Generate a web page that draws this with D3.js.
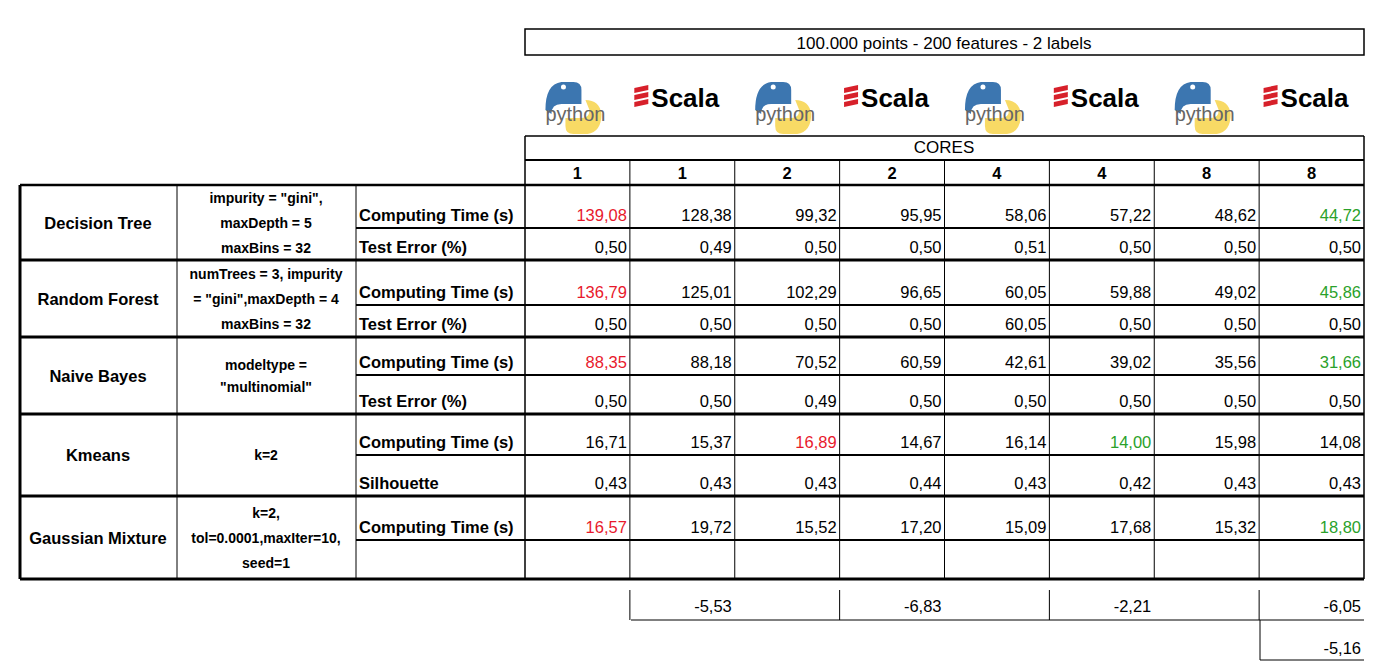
<!DOCTYPE html><html><head><meta charset="utf-8">
<script src="https://cdn.jsdelivr.net/npm/d3@7"></script>
<style>body{margin:0;background:#fff}text{font-family:"Liberation Sans Narrow","Liberation Sans",Arial,sans-serif}</style></head><body>
<svg id="c" width="1384" height="670"></svg>
<script>
const title="100.000 points - 200 features - 2 labels";
const langs=["python","scala","python","scala","python","scala","python","scala"];
const cores=["1","1","2","2","4","4","8","8"];
const algorithms=["Decision Tree","Random Forest","Naive Bayes","Kmeans","Gaussian Mixture"];
const params=[["impurity = \"gini\",","maxDepth = 5","maxBins = 32"],["numTrees = 3, impurity","= \"gini\",maxDepth = 4","maxBins = 32"],["modeltype =","\"multinomial\""],["k=2"],["k=2,","tol=0.0001,maxIter=10,","seed=1"]];
const metrics=[["Computing Time (s)","Test Error (%)"],["Computing Time (s)","Test Error (%)"],["Computing Time (s)","Test Error (%)"],["Computing Time (s)","Silhouette"],["Computing Time (s)",""]];
const values=[
[["139,08","128,38","99,32","95,95","58,06","57,22","48,62","44,72"],["0,50","0,49","0,50","0,50","0,51","0,50","0,50","0,50"]],
[["136,79","125,01","102,29","96,65","60,05","59,88","49,02","45,86"],["0,50","0,50","0,50","0,50","60,05","0,50","0,50","0,50"]],
[["88,35","88,18","70,52","60,59","42,61","39,02","35,56","31,66"],["0,50","0,50","0,49","0,50","0,50","0,50","0,50","0,50"]],
[["16,71","15,37","16,89","14,67","16,14","14,00","15,98","14,08"],["0,43","0,43","0,43","0,44","0,43","0,42","0,43","0,43"]],
[["16,57","19,72","15,52","17,20","15,09","17,68","15,32","18,80"],["","","","","","","",""]]];
const redCells=[[0,0],[1,0],[2,0],[3,2],[4,0]];
const greenCells=[[0,7],[1,7],[2,7],[3,5],[4,7]];
const diffs=["","-5,53","","-6,83","","-2,21","","-6,05"];
const extraDiff="-5,16";

const svg=d3.select("#c");
const colX=d3.scaleBand().domain(d3.range(8)).range([525,1364]);
const bw=colX.bandwidth();
const groupTops=[185,260,337,414,496,579];
const splitY=[228,305,375,455,540];
const ln=(x1,y1,x2,y2,w)=>svg.append("line").attr("x1",x1).attr("y1",y1).attr("x2",x2).attr("y2",y2).attr("stroke","#000").attr("stroke-width",w);
const tx=(x,y,s,o={})=>svg.append("text").attr("x",x).attr("y",y).attr("text-anchor",o.a||"middle").attr("font-size",o.fs||16.5).attr("font-weight",o.b?"bold":null).attr("fill",o.c||"#000").text(s);

svg.append("rect").attr("x",525).attr("y",29).attr("width",839).attr("height",26).attr("fill","none").attr("stroke","#000").attr("stroke-width",1.5);
tx(944,49,title,{fs:17});
langs.forEach((l,i)=>{const cx=colX(i)+bw/2;
 if(l==="python"){
  svg.append("path").attr("d",`M${cx-32},${110} q0,-26 16,-28 h12 q8,0 8,8 v14 h-20 q-10,0 -10,10 z`).attr("fill","#3c76b0");
  svg.append("circle").attr("cx",cx-14).attr("cy",87).attr("r",2.5).attr("fill","#fff");
  svg.append("path").attr("d",`M${cx+8},${100} q14,0 16,14 q0,18 -14,20 h-14 q-8,0 -8,-8 v-8 h16 q8,0 8,-8 z`).attr("fill","#f7d44a").attr("opacity",0.85);
  tx(cx-2,121,"python",{fs:20,c:"#666"});
 } else {
  for(let k=0;k<3;k++) svg.append("path").attr("d",`M${cx-48},${88+k*7} l14,-3 v5 l-14,3 z`).attr("fill","#d7202a");
  tx(cx-31,107,"Scala",{fs:26,b:true,a:"start"});
 }});
ln(525,136,1364,136,1.5);tx(944,153,"CORES",{fs:17});
ln(525,160,1364,160,2);
cores.forEach((c,i)=>tx(colX(i)+bw/2,179,c,{b:true}));
ln(20,185,1364,185,2.5);
algorithms.forEach((a,g)=>{
 const t=groupTops[g],b=groupTops[g+1],m=splitY[g];
 tx(98,(t+b)/2+6,a,{b:true});
 const p=params[g],lh=p.length===3?25:22;
 p.forEach((s,k)=>tx(266,(t+b)/2+5+(k-(p.length-1)/2)*lh,s,{fs:14,b:true}));
 [0,1].forEach(r=>{
  const y=r===0?m-7:b-7;
  tx(359,y,metrics[g][r],{a:"start",b:true});
  values[g][r].forEach((v,i)=>{
   let c="#000";
   if(r===0&&redCells.some(d=>d[0]===g&&d[1]===i))c="#e8192c";
   if(r===0&&greenCells.some(d=>d[0]===g&&d[1]===i))c="#2aa12a";
   tx(colX(i)+bw-3,y,v,{a:"end",c});
  });
 });
 ln(356,m,1364,m,2);
 ln(20,b,1364,b,3);
});
ln(20,185,20,579,3);
[177,356].forEach(x=>ln(x,185,x,579,1));
d3.range(9).forEach(i=>{const x=i===8?1364:colX(i);ln(x,(i===0||i===8)?136:160,x,579,i===0||i===8?1.5:1);});
diffs.forEach((d,i)=>{if(d){tx(colX(i)+bw-3,612,d,{a:"end"});ln(colX(i),590,colX(i),620,1);}});
ln(631,620,1364,620,1);
tx(1361,654,extraDiff,{a:"end"});
ln(1260,620,1260,660,1);ln(1260,660,1364,660,1);
</script></body></html>
